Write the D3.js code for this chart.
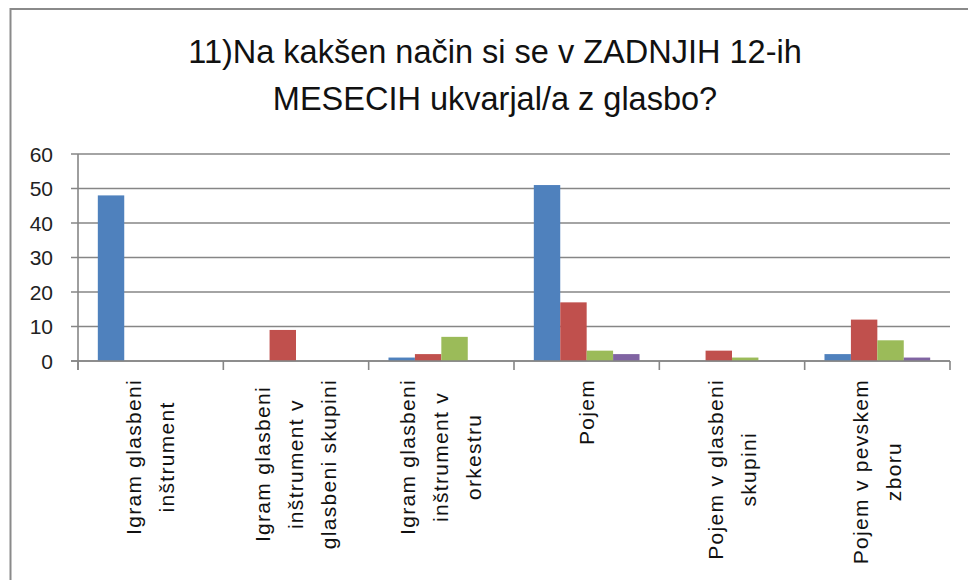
<!DOCTYPE html>
<html lang="sl">
<head>
<meta charset="utf-8">
<title>Ukvarjanje z glasbo</title>
<script src="https://d3js.org/d3.v7.min.js"></script>
<style>
  body { margin: 0; background: #fff; }
  svg { display: block; }
  text { font-family: "Liberation Sans", Arial, sans-serif; }
</style>
</head>
<body>
<script>
// data
var categories = [
  ["Igram glasbeni", "inštrument"],
  ["Igram glasbeni", "inštrument v", "glasbeni skupini"],
  ["Igram glasbeni", "inštrument v", "orkestru"],
  ["Pojem"],
  ["Pojem v glasbeni", "skupini"],
  ["Pojem v pevskem", "zboru"]
];
var series1 = [48, 0, 1, 51, 0, 2];
var series2 = [0, 9, 2, 17, 3, 12];
var series3 = [0, 0, 7, 3, 1, 6];
var series4 = [0, 0, 0, 2, 0, 1];
var yTicks = [0, 10, 20, 30, 40, 50, 60];
var titleLines = ["11)Na kakšen način si se v ZADNJIH 12-ih", "MESECIH ukvarjal/a z glasbo?"];

var seriesList = [series1, series2, series3, series4];
var colors = ["#4f81bd", "#c0504d", "#9bbb59", "#8064a2"];

var W = 968, H = 580;
var plot = {left: 78, right: 950, top: 154, bottom: 361};

var svg = d3.select("body").append("svg")
    .attr("width", W)
    .attr("height", H);

// outer chart border (runs off the picture on the right and bottom)
svg.append("rect")
    .attr("x", 10.5).attr("y", 9)
    .attr("width", W).attr("height", H)
    .attr("fill", "none")
    .attr("stroke", "#8a8a8a")
    .attr("stroke-width", 2);

// title
svg.append("g").selectAll("text")
    .data(titleLines)
    .enter().append("text")
    .attr("x", 495)
    .attr("y", function(d, i) { return 63 + i * 47; })
    .attr("text-anchor", "middle")
    .attr("font-size", "32.5px")
    .attr("fill", "#111")
    .text(function(d) { return d; });

var x = d3.scaleBand()
    .domain(d3.range(categories.length))
    .range([plot.left, plot.right])
    .padding(0);

var y = d3.scaleLinear()
    .domain([0, 60])
    .range([plot.bottom, plot.top]);

// bar width with Excel style gap width of 150%
var bw = x.bandwidth() / (seriesList.length + 1.5);
var xs = d3.scaleBand()
    .domain(d3.range(seriesList.length))
    .range([bw * 0.75, x.bandwidth() - bw * 0.75])
    .padding(0);

// gridlines + y ticks
svg.append("g").selectAll("line")
    .data(yTicks)
    .enter().append("line")
    .attr("x1", plot.left - 7)
    .attr("x2", plot.right)
    .attr("y1", function(d) { return y(d); })
    .attr("y2", function(d) { return y(d); })
    .attr("stroke", "#868686")
    .attr("stroke-width", 1.6);

// y axis line
svg.append("line")
    .attr("x1", plot.left).attr("x2", plot.left)
    .attr("y1", plot.top).attr("y2", plot.bottom + 9)
    .attr("stroke", "#868686")
    .attr("stroke-width", 1.6);

// category ticks
svg.append("g").selectAll("line")
    .data(d3.range(categories.length + 1))
    .enter().append("line")
    .attr("x1", function(i) { return plot.left + i * x.step(); })
    .attr("x2", function(i) { return plot.left + i * x.step(); })
    .attr("y1", plot.bottom)
    .attr("y2", plot.bottom + 9)
    .attr("stroke", "#868686")
    .attr("stroke-width", 1.6);

// y labels
svg.append("g").selectAll("text")
    .data(yTicks)
    .enter().append("text")
    .attr("x", 53)
    .attr("y", function(d) { return y(d); })
    .attr("dy", "0.36em")
    .attr("text-anchor", "end")
    .attr("font-size", "21px")
    .attr("fill", "#222")
    .text(function(d) { return d; });

// bars
seriesList.forEach(function(vals, s) {
  svg.append("g").selectAll("rect")
      .data(vals)
      .enter().append("rect")
      .attr("x", function(d, i) { return x(i) + xs(s); })
      .attr("y", function(d) { return y(d); })
      .attr("width", xs.bandwidth())
      .attr("height", function(d) { return y(0) - y(d); })
      .attr("fill", colors[s]);
});

// redraw the zero line over the bars
svg.append("line")
    .attr("x1", plot.left - 7).attr("x2", plot.right)
    .attr("y1", y(0)).attr("y2", y(0))
    .attr("stroke", "#868686")
    .attr("stroke-width", 1.6);

// rotated category labels
var lineGap = 33, labelTop = 379;
categories.forEach(function(lines, i) {
  var g = svg.append("g");
  var t = g.selectAll("text")
      .data(lines)
      .enter().append("text")
      .attr("text-anchor", "middle")
      .attr("font-size", "21px")
      .attr("letter-spacing", "1.3px")
      .attr("fill", "#111")
      .attr("x", 0)
      .attr("y", function(d, j) { return (j - (lines.length - 1) / 2) * lineGap + 7; })
      .text(function(d) { return d; });
  var maxLen = d3.max(t.nodes(), function(n) { return n.getComputedTextLength(); });
  var cx = x(i) + x.bandwidth() / 2;
  g.attr("transform", "translate(" + cx + "," + (labelTop + maxLen / 2) + ") rotate(-90)");
});
</script>
</body>
</html>
